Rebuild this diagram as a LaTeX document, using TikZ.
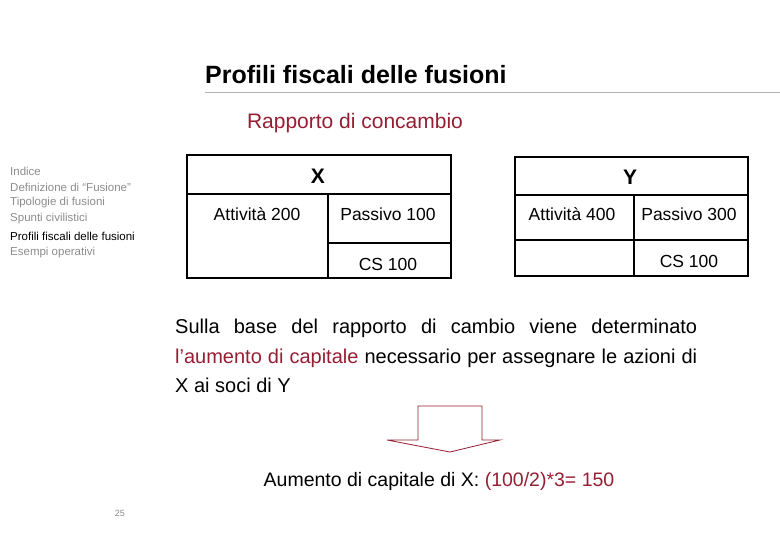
\documentclass[tikz,border=0pt]{standalone}
\usepackage{fontspec}
\setmainfont{Liberation Sans}
\definecolor{dred}{RGB}{150,30,50}
\definecolor{side}{RGB}{140,140,140}
\begin{document}
\begin{tikzpicture}[x=1pt,y=-1pt,
  side/.style={anchor=west,text=side,font=\fontsize{11.5}{14}\selectfont,inner sep=0},
  cell/.style={font=\fontsize{17.5}{20}\selectfont,inner sep=0},
  box/.style={draw,line width=1.3pt}]
\useasboundingbox (0,0) rectangle (780,540);
\node[anchor=west,font=\bfseries\fontsize{25}{28}\selectfont,inner sep=0] (title) at (205,75) {Profili fiscali delle fusioni};
\draw[gray!60,line width=0.6pt] (205,92) coordinate (l1) -- (780,92) coordinate (l2);
\node[text=dred,font=\fontsize{21}{24}\selectfont,inner sep=0] (sub) at (355,123) {Rapporto di concambio};
\node[side] (s1) at (10,171) {Indice};
\node[side] (s2) at (10,187) {Definizione di “Fusione”};
\node[side] (s3) at (10,203) {Tipologie di fusioni};
\node[side] (s4) at (10,219) {Spunti civilistici};
\node[side,text=black] (s5) at (10,236) {Profili fiscali delle fusioni};
\node[side] (s6) at (10,253) {Esempi operativi};
% X table
\draw[box] (187,155) rectangle (451,278);
\draw[box] (187,194) -- (451,194);
\draw[box] (328,194) -- (328,278);
\draw[box] (328,243) -- (451,243);
\node[cell,font=\bfseries\fontsize{21}{24}\selectfont] (x) at (318,176) {X};
\node[cell] (a1) at (257,214) {Attività 200};
\node[cell] (p1) at (388,214) {Passivo 100};
\node[cell] (c1) at (388,264) {CS 100};
% Y table
\draw[box] (515,157) rectangle (748,276);
\draw[box] (515,195) -- (748,195);
\draw[box] (634,195) -- (634,276);
\draw[box] (515,240) -- (748,240);
\node[cell,font=\bfseries\fontsize{21}{24}\selectfont] (y) at (630,177) {Y};
\node[cell] (a2) at (572,214) {Attività 400};
\node[cell] (p2) at (689,214) {Passivo 300};
\node[cell] (c2) at (689,261) {CS 100};
% paragraph
\node[anchor=north west,inner sep=0,text width=522pt,align=justify,font=\fontsize{20}{29.5}\selectfont] (par) at (175,319)
{Sulla base del rapporto di cambio viene determinato\linebreak \textcolor{dred}{l’aumento di capitale} necessario per assegnare le azioni di\linebreak X ai soci di Y};
% arrow
\draw[dred,line width=0.8pt,fill=white] (418,406) -- (482,406) -- (482,440) -- (500,440) -- (450,452) -- (387,440) -- (418,440) -- cycle;
\node[font=\fontsize{19.5}{22}\selectfont,inner sep=0] (res) at (439,481) {Aumento di capitale di X: \textcolor{dred}{(100/2)*3= 150}};
\node[text=side,font=\fontsize{9}{10}\selectfont,inner sep=0] (pg) at (120,513) {25};
\end{tikzpicture}
\end{document}
